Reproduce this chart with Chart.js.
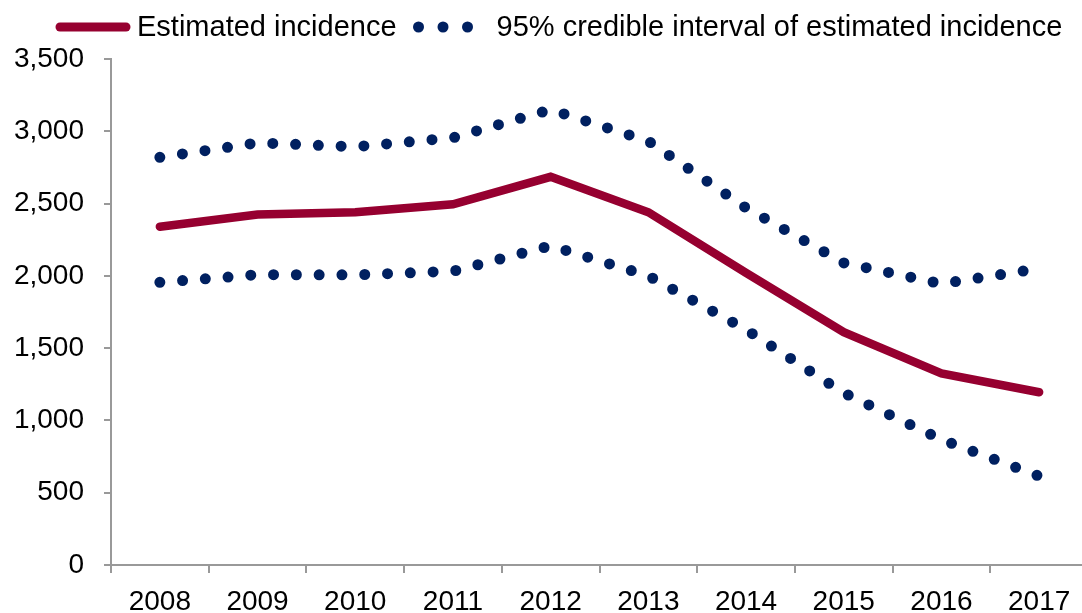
<!DOCTYPE html>
<html>
<head>
<meta charset="utf-8">
<script src="https://cdn.jsdelivr.net/npm/chart.js@4"></script>
<style>
  html, body { margin: 0; padding: 0; background: #fff; overflow: hidden; }
  #wrap { width: 1082px; height: 613px; overflow: hidden; }
</style>
</head>
<body>
<div id="wrap"><canvas id="chart" width="1090" height="618"></canvas></div>
<script>
// values
const years = ['2008', '2009', '2010', '2011', '2012', '2013', '2014', '2015', '2016', '2017'];
const incidence = [2340, 2425, 2440, 2495, 2685, 2440, 2020, 1610, 1325, 1195];
const upperCI = [2820, 2920, 2893, 2955, 3150, 2932, 2470, 2090, 1945, 2050];
const lowerCI = [1955, 2008, 2007, 2032, 2208, 2000, 1628, 1190, 868, 615];
const seriesNames = ['Estimated incidence', '95% credible interval of estimated incidence'];

const red = '#960030';
const navy = '#002060';
const axisGray = '#999999';
const fontFamily = '"Liberation Sans", Arial, sans-serif';

// legend drawn by hand so the dotted sample looks like the original
const legendPlugin = {
  id: 'handLegend',
  afterDraw(chart) {
    const ctx = chart.ctx;
    const y = 27;
    ctx.save();
    ctx.font = '29px ' + fontFamily;
    ctx.textBaseline = 'middle';
    ctx.fillStyle = '#000';

    // solid item
    var x = 56;
    ctx.strokeStyle = red;
    ctx.lineWidth = 9;
    ctx.lineCap = 'round';
    ctx.beginPath();
    ctx.moveTo(x + 4, y);
    ctx.lineTo(x + 70, y);
    ctx.stroke();
    x += 81;
    ctx.fillText(seriesNames[0], x, y + 1);
    x += ctx.measureText(seriesNames[0]).width + 22;

    // dotted item
    ctx.fillStyle = navy;
    for (var i = 0; i < 3; i++) {
      ctx.beginPath();
      ctx.arc(x + i * 24.5, y, 5.5, 0, Math.PI * 2);
      ctx.fill();
    }
    x += 49 + 29;
    ctx.fillStyle = '#000';
    ctx.fillText(seriesNames[1], x, y + 1);
    ctx.restore();
  }
};

const dotted = {
  borderColor: navy,
  backgroundColor: navy,
  borderWidth: 11,
  borderDash: [0, 22.8],
  borderCapStyle: 'round',
  borderJoinStyle: 'round',
  pointRadius: 0,
  pointHoverRadius: 0,
  tension: 0,
  fill: false
};

const ctx = document.getElementById('chart').getContext('2d');
new Chart(ctx, {
  type: 'line',
  data: {
    labels: years,
    datasets: [
      Object.assign({ label: seriesNames[1], data: upperCI }, dotted),
      Object.assign({ label: seriesNames[1], data: lowerCI }, dotted),
      {
        label: seriesNames[0],
        data: incidence,
        borderColor: red,
        backgroundColor: red,
        borderWidth: 8.5,
        borderCapStyle: 'round',
        borderJoinStyle: 'miter',
        pointRadius: 0,
        pointHoverRadius: 0,
        tension: 0,
        fill: false
      }
    ]
  },
  options: {
    responsive: false,
    animation: false,
    devicePixelRatio: 1,
    layout: { padding: { top: 59, left: 14, right: 2, bottom: 0 } },
    plugins: {
      legend: { display: false },
      tooltip: { enabled: false }
    },
    scales: {
      x: {
        offset: true,
        afterFit(scale) { scale.height = 53; },
        grid: {
          offset: true,
          drawOnChartArea: false,
          color: axisGray,
          lineWidth: 2,
          tickLength: 8
        },
        border: { color: axisGray, width: 2 },
        ticks: {
          color: '#000',
          font: { family: fontFamily, size: 28, lineHeight: 1.2 },
          padding: 12,
          maxRotation: 0,
          autoSkip: false
        }
      },
      y: {
        min: 0,
        max: 3500,
        afterFit(scale) { scale.width = 97; },
        grid: {
          drawOnChartArea: false,
          color: axisGray,
          lineWidth: 2,
          tickLength: 7
        },
        border: { color: axisGray, width: 2 },
        ticks: {
          stepSize: 500,
          color: '#000',
          font: { family: fontFamily, size: 28 },
          padding: 20
        }
      }
    }
  },
  plugins: [legendPlugin]
});
</script>
</body>
</html>
